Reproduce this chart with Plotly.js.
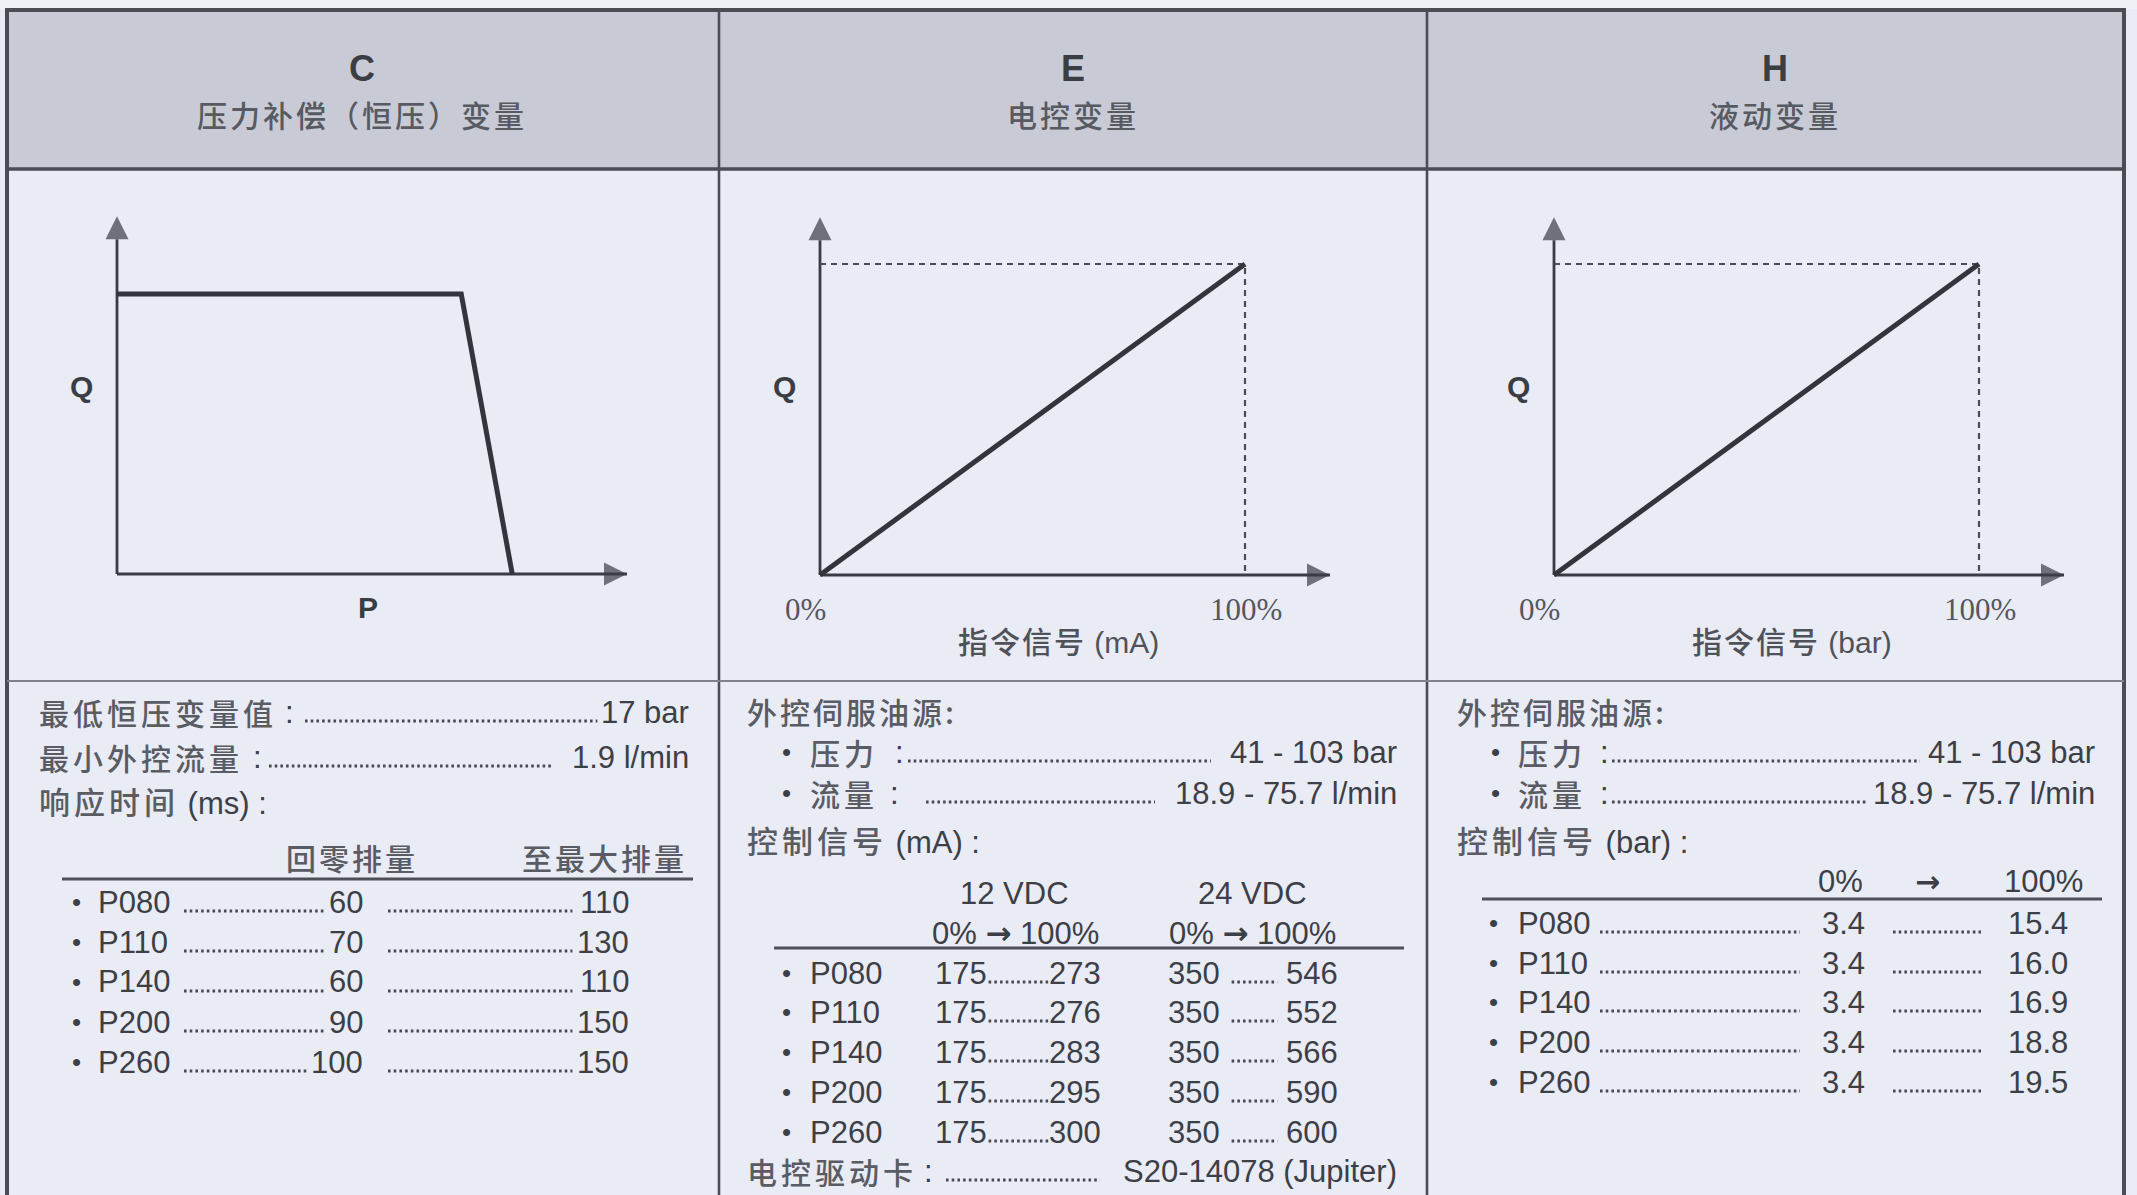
<!DOCTYPE html>
<html><head><meta charset="utf-8">
<script src="https://cdn.plot.ly/plotly-3.0.1.min.js"></script>
<style>html,body{margin:0;padding:0;background:#e9ebf5;overflow:hidden}#chart{width:2137px;height:1195px}</style>
</head><body><div id="chart"></div><script>
// ---------------- data ----------------
const panelCodes = ['C', 'E', 'H'];
const panelNames = ['压力补偿（恒压）变量', '电控变量', '液动变量'];
const pumpModels = ['P080', 'P110', 'P140', 'P200', 'P260'];
const respZero = [60, 70, 60, 90, 100];
const respMax = [110, 130, 110, 150, 150];
const ma12Start = [175, 175, 175, 175, 175];
const ma12End = [273, 276, 283, 295, 300];
const ma24Start = [350, 350, 350, 350, 350];
const ma24End = [546, 552, 566, 590, 600];
const barStart = [3.4, 3.4, 3.4, 3.4, 3.4];
const barEnd = [15.4, 16.0, 16.9, 18.8, 19.5];
const cPressure = [0, 81, 93];
const cFlow = [90, 90, 0];
const signalPct = [0, 100];
const flowPct = [0, 100];
const xTitles = ['P', '指令信号 (mA)', '指令信号 (bar)'];
const specC = [['最低恒压变量值', '17 bar'], ['最小外控流量', '1.9 l/min']];
const servoSupply = [['压力', '41 - 103 bar'], ['流量', '18.9 - 75.7 l/min']];
const respHeaders = ['回零排量', '至最大排量'];
const vdcHeaders = ['12 VDC', '24 VDC'];
const pctHeaders = ['0%', '→', '100%'];
const driverCard = 'S20-14078 (Jupiter)';

// ---------------- layout helpers ----------------
const W = 2137, H = 1195;
const px = x => x / W, py = y => 1 - y / H;
const SANS = 'Liberation Sans, Arial, Noto Sans CJK SC, sans-serif';
const CJKF = 'Noto Sans CJK SC, sans-serif';
const SERIF = 'Liberation Serif, Times New Roman, serif';
const ARW = 'DejaVu Sans, sans-serif';
const INK = '#3d3f47', GRAY = '#5a5c64', AX = '#3a3c44', FRAME = '#4b4d55', DOT = '#484a52';
const FS = 31;
const annotations = [], shapes = [];
function T(x, y, text, o = {}) {
  annotations.push({xref: 'paper', yref: 'paper', x: px(x), y: py(y), text: text, showarrow: false,
    xanchor: o.a || 'left', yanchor: 'middle',
    font: {family: o.f || SANS, size: o.s || FS, color: o.c || INK, weight: o.w || 'normal'}});
}
function C(s, sp) { return '<span style="letter-spacing:' + (sp == null ? 4 : sp) + 'px">' + s + '</span>'; }
function TC(x, y, s, o = {}) { T(x, y, C(s, o.sp), Object.assign({f: CJKF, s: 30, c: GRAY, w: 500}, o)); }
function L(x1, y1, x2, y2, w, c, dash) {
  shapes.push({type: 'line', xref: 'paper', yref: 'paper', x0: px(x1), y0: py(y1), x1: px(x2), y1: py(y2),
    line: {width: w, color: c, dash: dash || 'solid'}});
}
function dots(x1, x2, y) { L(x1, y + 9, x2, y + 9, 2.8, DOT, '2.6px,3.1px'); }
const DW = 17.2; // digit width at FS
const wid = v => String(v).length * DW;
const ARROW = '<span style="font-family:DejaVu Sans;font-weight:bold">' + pctHeaders[1] + '</span>';

// ---------------- frame ----------------
shapes.push({type: 'rect', xref: 'paper', yref: 'paper', x0: px(7), x1: px(2124), y0: py(169), y1: py(10),
  fillcolor: '#c8cbd6', line: {width: 0}, layer: 'below'});
shapes.push({type: 'rect', xref: 'paper', yref: 'paper', x0: 0, x1: 1, y0: py(9), y1: 1,
  fillcolor: '#eef0f5', line: {width: 0}, layer: 'below'});
L(5, 10, 2126, 10, 4, FRAME);
L(7, 8, 7, 1195, 4, FRAME);
L(2124, 8, 2124, 1195, 4, FRAME);
L(7, 169, 2124, 169, 3.5, FRAME);
L(719, 10, 719, 1195, 2.6, FRAME);
L(1427, 10, 1427, 1195, 2.6, FRAME);
L(7, 681, 2124, 681, 2.2, '#7f828a');

// headers
const colCenters = [362, 1073, 1775];
panelCodes.forEach((c, i) => {
  T(colCenters[i], 68, c, {a: 'center', s: 36, w: 'bold', c: '#3b3d44'});
  T(colCenters[i], 114, C(panelNames[i], 3), {a: 'center', f: CJKF, s: 30, c: '#585a62', w: 500});
});

// ---------------- diagrams ----------------
const PXU = 4.25, PYU = 3.11, XR = [-5, 120], YR = [-5, 115];
const origins = [[117, 574], [820, 575], [1554, 575]];
const layoutAxes = {};
const traces = [];
origins.forEach(([ox, oy], i) => {
  const n = i ? String(i + 1) : '';
  layoutAxes['xaxis' + n] = {domain: [px(ox + XR[0] * PXU), px(ox + XR[1] * PXU)], range: XR, visible: false, fixedrange: true, anchor: 'y' + n};
  layoutAxes['yaxis' + n] = {domain: [py(oy - YR[0] * PYU), py(oy - YR[1] * PYU)], range: YR, visible: false, fixedrange: true, anchor: 'x' + n};
  const base = {xaxis: 'x' + n, yaxis: 'y' + n, hoverinfo: 'skip', showlegend: false, cliponaxis: false};
  traces.push(Object.assign({x: [0, XR[1]], y: [0, 0], mode: 'lines+markers', line: {color: AX, width: 2.8},
    marker: {symbol: ['circle', 'arrow-right'], size: [0, 23], color: AX, line: {width: 0}}}, base));
  traces.push(Object.assign({x: [0, 0], y: [0, YR[1]], mode: 'lines+markers', line: {color: AX, width: 2.8},
    marker: {symbol: ['circle', 'arrow-up'], size: [0, 23], color: AX, line: {width: 0}}}, base));
  T(ox - 36, 386, 'Q', {a: 'center', s: 30, w: 'bold', c: '#3b3d44'});
  if (i === 0) {
    traces.push(Object.assign({x: cPressure, y: cFlow, mode: 'lines', line: {color: '#33353c', width: 5}}, base));
    T(ox + 59 * PXU, 607, xTitles[0], {a: 'center', s: 30, w: 'bold', c: '#3b3d44'});
  } else {
    traces.push(Object.assign({x: [signalPct[0], signalPct[1], signalPct[1]], y: [flowPct[1], flowPct[1], flowPct[0]],
      mode: 'lines', line: {color: '#4a4c54', width: 2.2, dash: '6px,5px'}}, base));
    traces.push(Object.assign({x: signalPct, y: flowPct, mode: 'lines', line: {color: '#33353c', width: 5}}, base));
    annotations.push({xref: 'x' + n, yref: 'paper', x: signalPct[0], y: py(609), xshift: -15, text: '0%', showarrow: false,
      xanchor: 'center', yanchor: 'middle', font: {family: SERIF, size: 31, color: '#55575f'}});
    annotations.push({xref: 'x' + n, yref: 'paper', x: signalPct[1], y: py(609), xshift: 1, text: '100%', showarrow: false,
      xanchor: 'center', yanchor: 'middle', font: {family: SERIF, size: 31, color: '#55575f'}});
    const parts = xTitles[i].split(' ');
    annotations.push({xref: 'x' + n, yref: 'paper', x: 56, y: py(642),
      text: '<span style="letter-spacing:2px;font-weight:500">' + parts[0] + '</span> ' + parts[1], showarrow: false,
      xanchor: 'center', yanchor: 'middle', font: {family: SANS, size: 30, color: '#505259'}});
  }
});

// ---------------- column C text ----------------
const specY = [712, 757];
const specColon = [289, 257], specDotStart = [305, 269];
specC.forEach((r, k) => {
  const y = specY[k];
  TC(37, y, r[0], {sp: 4});
  T(specColon[k], y, ':', {a: 'center'});
  dots(specDotStart[k], 691 - r[1].length * 14.6 - 6, y);
  T(691, y, r[1], {a: 'right'});
});
T(37, 803, '<span style="letter-spacing:4px;color:#5a5c64;font-weight:500">响应时间</span> (ms) :', {s: FS});
TC(352, 857, respHeaders[0], {a: 'center', sp: 3});
TC(604, 857, respHeaders[1], {a: 'center', sp: 3});
L(62, 879, 693, 879, 2.8, '#4e5058');
const rowYc = [902, 942, 982, 1022, 1062];
pumpModels.forEach((m, k) => {
  const y = rowYc[k];
  T(76, y, '•', {a: 'center', s: 26});
  T(96, y, m);
  dots(184, 365 - wid(respZero[k]) - 7, y);
  T(365, y, String(respZero[k]), {a: 'right'});
  dots(388, 631 - wid(respMax[k]) - 7, y);
  T(631, y, String(respMax[k]), {a: 'right'});
});

// ---------------- column E / H servo supply ----------------
function servoBlock(x0, bx, lx, colons, dotStart, dotEnd, right) {
  TC(x0, 711, '外控伺服油源:', {sp: 3});
  servoSupply.forEach((r, k) => {
    const y = [752, 793][k];
    T(bx, y, '•', {a: 'center', s: 26});
    TC(lx, y, r[0], {sp: 4});
    T(colons[k], y, ':', {a: 'center'});
    dots(dotStart[k], dotEnd[k], y);
    T(right, y, r[1], {a: 'right'});
  });
}
servoBlock(745, 786, 808, [899, 894], [908, 926], [1211, 1155], 1399);
servoBlock(1455, 1495, 1516, [1604, 1604], [1612, 1612], [1920, 1866], 2097);

// ---------------- column E control signal ----------------
T(745, 842, '<span style="letter-spacing:4px;color:#5a5c64;font-weight:500">控制信号</span> (mA) :');
T(1014, 893, vdcHeaders[0], {a: 'center'});
T(1252, 893, vdcHeaders[1], {a: 'center'});
T(1015, 933, pctHeaders[0] + ' ' + ARROW + ' ' + pctHeaders[2], {a: 'center'});
T(1252, 933, pctHeaders[0] + ' ' + ARROW + ' ' + pctHeaders[2], {a: 'center'});
L(774, 948, 1404, 948, 2.8, '#4e5058');
const rowYe = [973, 1012, 1052, 1092, 1132];
pumpModels.forEach((m, k) => {
  const y = rowYe[k];
  T(786, y, '•', {a: 'center', s: 26});
  T(808, y, m);
  T(933, y, String(ma12Start[k]));
  dots(933 + wid(ma12Start[k]) + 4, 1103 - wid(ma12End[k]) - 3, y);
  T(1103, y, String(ma12End[k]), {a: 'right'});
  T(1166, y, String(ma24Start[k]));
  dots(1166 + wid(ma24Start[k]) + 14, 1340 - wid(ma24End[k]) - 11, y);
  T(1340, y, String(ma24End[k]), {a: 'right'});
});
TC(745, 1171, '电控驱动卡', {sp: 4});
T(928, 1171, ':', {a: 'center'});
dots(946, 1100, 1171);
T(1399, 1171, driverCard, {a: 'right'});

// ---------------- column H control signal ----------------
T(1455, 842, '<span style="letter-spacing:4px;color:#5a5c64;font-weight:500">控制信号</span> (bar) :');
T(1840, 882, pctHeaders[0], {a: 'center'});
T(1927, 882, pctHeaders[1], {a: 'center', f: ARW, w: 'bold', s: 30});
T(2043, 882, pctHeaders[2], {a: 'center'});
L(1482, 899, 2102, 899, 2.8, '#4e5058');
const rowYh = [923, 963, 1002, 1042, 1082];
pumpModels.forEach((m, k) => {
  const y = rowYh[k];
  T(1493, y, '•', {a: 'center', s: 26});
  T(1516, y, m);
  dots(1600, 1800, y);
  T(1843, y, barStart[k].toFixed(1), {a: 'center'});
  dots(1893, 1981, y);
  T(2038, y, barEnd[k].toFixed(1), {a: 'center'});
});

const layout = Object.assign({
  width: W, height: H, margin: {l: 0, r: 0, t: 0, b: 0, pad: 0},
  paper_bgcolor: '#e9ebf5', plot_bgcolor: 'rgba(0,0,0,0)',
  showlegend: false, annotations: annotations, shapes: shapes
}, layoutAxes);
Plotly.newPlot('chart', traces, layout, {staticPlot: true, displayModeBar: false});
</script></body></html>
